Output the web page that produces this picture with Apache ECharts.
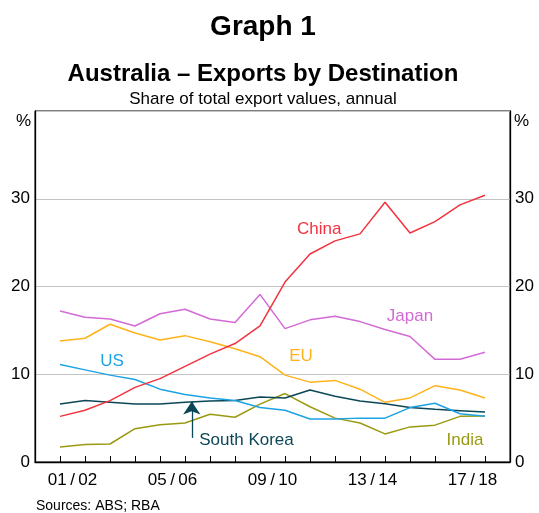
<!DOCTYPE html>
<html>
<head>
<meta charset="utf-8">
<script src="https://cdn.jsdelivr.net/npm/echarts@6/dist/echarts.min.js"></script>
<style>
html,body{margin:0;padding:0;background:#fff;}
#c{width:539px;height:513px;}
</style>
</head>
<body>
<div id="c"></div>
<script>
// Fiscal years (one point per year)
const years = ['2000/01','2001/02','2002/03','2003/04','2004/05','2005/06','2006/07','2007/08','2008/09','2009/10','2010/11','2011/12','2012/13','2013/14','2014/15','2015/16','2016/17','2017/18'];
// Labelled years on the x axis
const tickYears = ['2001/02','2005/06','2009/10','2013/14','2017/18'];
const tickText = ['01\u2009/\u200902','05\u2009/\u200906','09\u2009/\u200910','13\u2009/\u200914','17\u2009/\u200918'];
// Share of total export values, %
const china = [5.2, 5.9, 7.0, 8.5, 9.5, 10.9, 12.3, 13.5, 15.5, 20.5, 23.7, 25.2, 26.0, 29.6, 26.1, 27.4, 29.3, 30.4];
const japan = [17.2, 16.5, 16.3, 15.5, 16.9, 17.4, 16.3, 15.9, 19.1, 15.2, 16.2, 16.6, 16.0, 15.1, 14.3, 11.7, 11.7, 12.5];
const eu    = [13.8, 14.1, 15.7, 14.7, 13.9, 14.4, 13.7, 12.9, 12.0, 9.9, 9.1, 9.3, 8.3, 6.8, 7.3, 8.7, 8.2, 7.3];
const us    = [11.1, 10.5, 9.9, 9.4, 8.3, 7.7, 7.3, 7.0, 6.2, 5.9, 4.9, 4.9, 5.0, 5.0, 6.2, 6.7, 5.5, 5.2];
const korea = [6.6, 7.0, 6.8, 6.6, 6.6, 6.8, 6.95, 7.0, 7.4, 7.3, 8.2, 7.5, 6.95, 6.65, 6.2, 6.0, 5.85, 5.7];
const india = [1.7, 2.0, 2.05, 3.8, 4.25, 4.45, 5.45, 5.1, 6.6, 7.8, 6.3, 5.0, 4.45, 3.2, 4.0, 4.2, 5.2, 5.25];
const yTicks = [0, 10, 20, 30];

const colors = {China:'#f2333f', Japan:'#d36ad6', EU:'#ffb31a', US:'#1ca3e3', 'South Korea':'#0c4757', India:'#9a9a12'};
// Series labels: [name, x (year index), y (%)]
const seriesLabels = [
  ['China', 10.37, 26.5],
  ['Japan', 14.0, 16.6],
  ['EU', 9.64, 12.0],
  ['US', 2.08, 11.5],
  ['South Korea', 7.46, 2.47],
  ['India', 16.2, 2.47]
];

const idx = years.map((y,i)=>i);
const toPairs = arr => arr.map((v,i)=>[idx[i], v]);
const labelPos = tickYears.map(t => years.indexOf(t) - 0.5);

const FONT = 'Arial, "Liberation Sans", sans-serif';
const chart = echarts.init(document.getElementById('c'), null, {renderer:'canvas'});

function mkSeries(name, data, extra){
  return Object.assign({
    name, type:'line', data: toPairs(data), showSymbol:false, symbol:'none',
    lineStyle:{color:colors[name], width:1.5}, itemStyle:{color:colors[name]},
    animation:false, silent:true, z:3
  }, extra||{});
}

const yAxisBase = {
  type:'value', min:0, max:40, interval:10,
  axisLine:{show:true, onZero:false, lineStyle:{color:'#000', width:1.3}},
  axisTick:{show:false},
  splitLine:{show:true, lineStyle:{color:'#c4c4c4', width:1}},
  axisLabel:{fontFamily:FONT, fontSize:17, color:'#000', margin:5,
    formatter: v => yTicks.indexOf(v) >= 0 ? String(v) : ''}
};

chart.setOption({
  animation:false,
  backgroundColor:'#fff',
  grid:{left:35, right:29, top:111, bottom:51, show:true, borderColor:'#000', borderWidth:1, containLabel:false},
  title:[
    {text:'Graph 1', left:258, textAlign:'center', top:8, textStyle:{fontFamily:FONT, fontSize:28, fontWeight:'bold', color:'#000'}},
    {text:'Australia – Exports by Destination', left:258, textAlign:'center', top:57, textStyle:{fontFamily:FONT, fontSize:24, fontWeight:'bold', color:'#000'}},
    {text:'Share of total export values, annual', left:258, textAlign:'center', top:86, textStyle:{fontFamily:FONT, fontSize:17, fontWeight:'normal', color:'#000'}},
    {text:'Sources: ABS; RBA', left:31, top:494, textStyle:{fontFamily:FONT, fontSize:14, fontWeight:'normal', color:'#000'}}
  ],
  xAxis:{
    type:'value', min:-1, max:years.length, interval:1,
    axisLine:{show:true, onZero:false, lineStyle:{color:'#000', width:1.3}},
    axisTick:{show:true, inside:true, length:6, lineStyle:{color:'#000', width:1}},
    splitLine:{show:false},
    axisLabel:{fontFamily:FONT, fontSize:17, color:'#000', margin:10,
      customValues: labelPos,
      formatter: v => { const k = labelPos.findIndex(p => Math.abs(p - v) < 1e-6); return k >= 0 ? tickText[k] : ''; }}
  },
  yAxis:[
    Object.assign({}, yAxisBase, {position:'left'}),
    Object.assign({}, yAxisBase, {position:'right', splitLine:{show:false}})
  ],
  series:[
    mkSeries('India', india),
    mkSeries('South Korea', korea, {
      markLine:{
        silent:true, animation:false, symbol:['none','arrow'], symbolSize:13,
        label:{show:false},
        lineStyle:{color:colors['South Korea'], width:1.3, type:'solid'},
        itemStyle:{color:colors['South Korea']},
        emphasis:{disabled:true},
        data:[[{coord:[5.27, 2.75]}, {coord:[5.27, 6.9]}]]
      }
    }),
    mkSeries('US', us),
    mkSeries('EU', eu),
    mkSeries('Japan', japan),
    mkSeries('China', china)
  ]
});

// Series name labels and % unit labels placed in data coordinates
const g = seriesLabels.map(([name, x, y]) => {
  const p = chart.convertToPixel({xAxisIndex:0, yAxisIndex:0}, [x, y]);
  return {type:'text', x:p[0], y:p[1], silent:true, z:10,
    style:{text:name, fill:colors[name], font:'17px ' + FONT, align:'center', verticalAlign:'middle'}};
});
const topY = chart.convertToPixel({yAxisIndex:0}, 40);
const leftX = chart.convertToPixel({xAxisIndex:0}, -1);
const rightX = chart.convertToPixel({xAxisIndex:0}, years.length);
g.push({type:'text', x:leftX-4, y:topY+10, silent:true, style:{text:'%', fill:'#000', font:'17px ' + FONT, align:'right', verticalAlign:'middle'}});
g.push({type:'text', x:rightX+4, y:topY+10, silent:true, style:{text:'%', fill:'#000', font:'17px ' + FONT, align:'left', verticalAlign:'middle'}});
chart.setOption({graphic:g});
</script>
</body>
</html>
